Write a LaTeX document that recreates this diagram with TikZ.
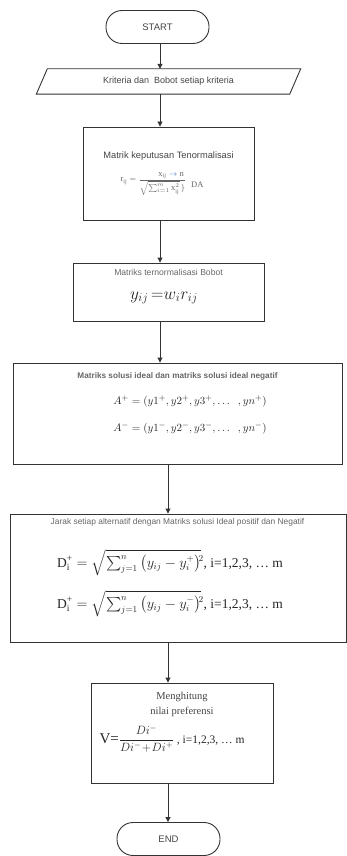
\documentclass[tikz,border=0pt]{standalone}
\usepackage{amsmath}
\usepackage{fontspec}
\setmainfont{Liberation Sans}
\newfontfamily\serifz{Liberation Serif}
\newcommand\srf[1]{\text{\serifz #1}}
\usetikzlibrary{arrows.meta}
\definecolor{linec}{HTML}{333333}
\definecolor{txtc}{HTML}{444444}
\definecolor{greyt}{HTML}{666666}
\definecolor{arrblue}{HTML}{4A7FC1}
\tikzset{
  box/.style={draw=linec, line width=0.9pt, inner sep=0pt},
  term/.style={draw=linec, line width=0.9pt, rounded corners=16pt, inner sep=0pt, font=\fontsize{9.5}{11}\selectfont, text=txtc},
  lbl/.style={inner sep=0pt, text=greyt, font=\fontsize{8.6}{10}\selectfont},
  frm/.style={inner sep=0pt, text=black!85},
  arr/.style={draw=linec, line width=0.9pt, -{Triangle[length=5pt,width=5pt]}},
  ln/.style={draw=linec, line width=0.9pt}
}
\begin{document}
\begin{tikzpicture}[x=1pt,y=-1pt]
\useasboundingbox (0,0) rectangle (347,856);
% START
\node[term, minimum width=103pt, minimum height=33pt] (start) at (157.5,27) {START};
% parallelogram (input)
\node[inner sep=0pt, minimum width=253pt, minimum height=25pt, font=\fontsize{9}{11}\selectfont, text=txtc] (para) at (168.5,81.5) {Kriteria dan\ \ Bobot setiap kriteria};
\draw[ln] ([xshift=-5.5pt]para.south west) -- ([xshift=5.5pt]para.north west) -- ([xshift=5.5pt]para.north east) -- ([xshift=-5.5pt]para.south east) -- cycle;
% box 2
\node[box, minimum width=171pt, minimum height=93pt] (b2) at (168.5,173.5) {};
\node[lbl, text=txtc, font=\fontsize{9.3}{11}\selectfont] (b2t) at (168.5,156) {Matrik keputusan Tenormalisasi};
\node[frm, text=greyt, font=\fontsize{8.5}{9}\selectfont] (b2f) at (162,184) {$\srf{r}_{\srf{ij}} = \dfrac{\srf{x}_{\srf{ij}}\rlap{$\;\textcolor{arrblue}{\rightarrow}\;\srf{n}$}}{\sqrt{\sum_{i=1}^{m}\srf{x}_{\srf{ij}}^{2}}\,\}}$\ \ \raisebox{-6pt}{\serifz DA}};
% box 3
\node[box, minimum width=191pt, minimum height=58pt] (b3) at (168.5,292) {};
\node[lbl] (b3t) at (168.5,272) {Matriks ternormalisasi Bobot};
\node[frm, font=\fontsize{16.5}{20}\selectfont] (b3f) at (164,298) {$y_{ij}\,{=}w_{i}r_{ij}$};
% box 4
\node[box, minimum width=329pt, minimum height=101pt] (b4) at (177.5,413.5) {};
\node[lbl, font=\bfseries\fontsize{8.2}{10}\selectfont] (b4t) at (177.5,376) {Matriks solusi ideal dan matriks solusi ideal negatif};
\node[frm, font=\fontsize{11}{13}\selectfont] (b4a) at (190,401) {$A^{+} = (y1^{+}, y2^{+}, y3^{+}, \ldots\ \ , yn^{+})$};
\node[frm, font=\fontsize{11}{13}\selectfont] (b4b) at (190,428) {$A^{-} = (y1^{-}, y2^{-}, y3^{-}, \ldots\ \ , yn^{-})$};
% box 5
\node[box, minimum width=336pt, minimum height=128pt] (b5) at (178,578) {};
\node[lbl, font=\fontsize{8.4}{10}\selectfont] (b5t) at (177.5,522) {Jarak setiap alternatif dengan Matriks solusi Ideal positif dan Negatif};
\node[frm, font=\fontsize{13.5}{16}\selectfont] (b5a) at (170,563) {$\srf{D}_{\srf{i}}^{\srf{+}} = \sqrt{\textstyle\sum_{j=1}^{n}\big(y_{ij} - y_{i}^{+}\big)}\!{}^{2}${\serifz , i=1,2,3, \dots\ m}};
\node[frm, font=\fontsize{13.5}{16}\selectfont] (b5b) at (170,604) {$\srf{D}_{\srf{i}}^{\srf{+}} = \sqrt{\textstyle\sum_{j=1}^{n}\big(y_{ij} - y_{i}^{-}\big)}\!{}^{2}${\serifz , i=1,2,3, \dots\ m}};
% box 6
\node[box, minimum width=182pt, minimum height=100pt] (b6) at (182,733) {};
\node[frm, text=txtc, font=\serifz\fontsize{10.5}{12}\selectfont] (b6t) at (182,697) {Menghitung};
\node[frm, text=txtc, font=\serifz\fontsize{10.5}{12}\selectfont] (b6u) at (182,712) {nilai preferensi};
\node[frm, font=\fontsize{11.5}{13}\selectfont] (b6f) at (172,739) {{\serifz\fontsize{15}{15}\selectfont V=}$\dfrac{Di^{-}}{Di^{-}\!+\!Di^{+}}${\serifz\ , i=1,2,3, \dots\ m}};
% END
\node[term, minimum width=103pt, minimum height=33pt] (end) at (168.5,839) {END};
% connector x positions
\coordinate (xa) at (160,0);
\coordinate (xb) at (168,0);
\draw[arr] (start.south -| xa) -- (para.north -| xa);
\draw[arr] (para.south -| xa) -- (b2.north -| xa);
\draw[arr] (b2.south -| xa) -- (b3.north -| xa);
\draw[arr] (b3.south -| xa) -- (b4.north -| xa);
\draw[arr] (b4.south -| xb) -- (b5.north -| xb);
\draw[arr] (b5.south -| xb) -- (b6.north -| xb);
\draw[arr] (b6.south -| xb) -- (end.north -| xb);
\end{tikzpicture}
\end{document}
